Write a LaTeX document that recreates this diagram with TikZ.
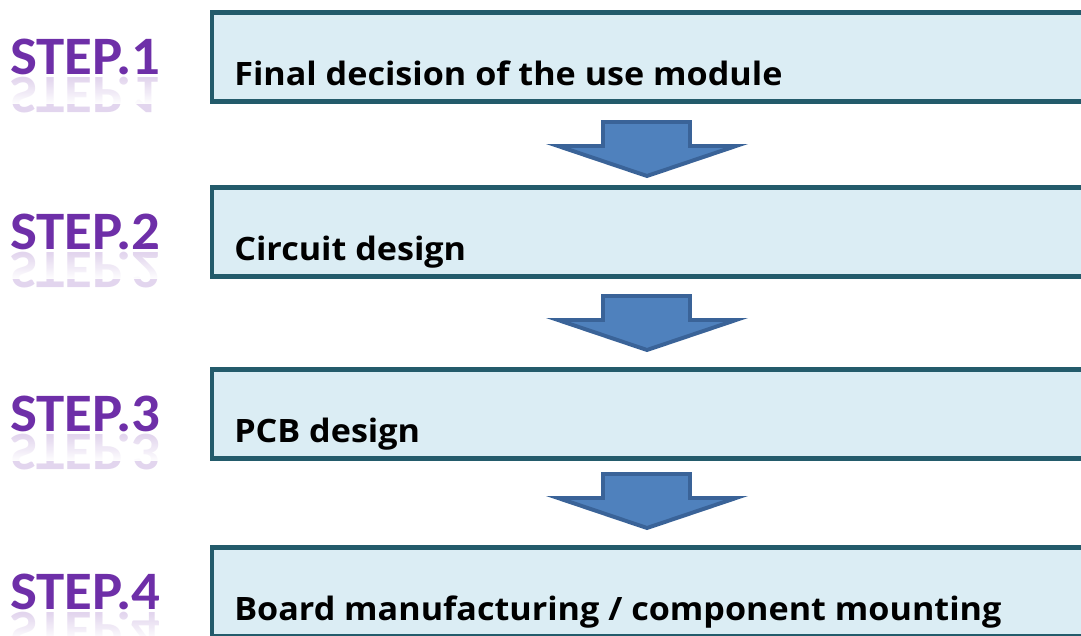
\documentclass[tikz,border=0pt]{standalone}
\usepackage{fontspec}
\setmainfont{Open Sans}
\newfontfamily\boxfont[FakeStretch=1.06]{Open Sans}
\newfontfamily\stepfont[FakeStretch=1.05]{Carlito}
\usetikzlibrary{fadings}

\definecolor{boxfill}{HTML}{DBEDF4}
\definecolor{boxline}{HTML}{235B6B}
\definecolor{arrowfill}{HTML}{4F81BD}
\definecolor{arrowline}{HTML}{3A6398}
\definecolor{steppurple}{HTML}{6E2FA8}

\tikzset{
  stepbox/.style={draw=boxline,fill=boxfill,line width=3.5pt},
  steptext/.style={anchor=base west,inner sep=0pt,font=\boxfont\fontsize{22.9}{27}\selectfont\bfseries},
  steplabel/.style={anchor=base west,inner sep=0pt,text=steppurple,
    font=\stepfont\fontsize{38.5}{44}\selectfont\bfseries},
  blockarrow/.style={draw=arrowline,fill=arrowfill,line width=2.8pt,line join=miter}
}

\begin{document}
\begin{tikzpicture}[x=0.025cm,y=-0.025cm]
        \useasboundingbox (0,0) rectangle (1081,636);
        \clip (0,0) rectangle (1081,636);

        % boxes, texts and STEP labels
        \foreach[count=\i] \t/\txt in {12.5/{Final decision of the use module},
                                       187.5/{Circuit design},
                                       369.5/{PCB design},
                                       547.5/{Board manufacturing / component mounting}}{
            \draw [stepbox] (212,\t) rectangle (1100,\t+89);
            \node [steptext] (text\i) at (234,\t+73) {\txt};
            \node [steplabel] (step\i) at (10,\t+62) {STEP.\i};
            % mirrored copy, washed out towards the bottom
            \node [steplabel,yscale=-1,text opacity=.2] (mirror\i) at (10,\t+65) {STEP.\i};
            \fill [white,path fading=north] (0,\t+66) rectangle (180,\t+92);
        }

        % block arrows between the boxes
        \foreach \y in {122,296,474}{
            \draw [blockarrow] (603,\y) -- (690,\y) -- (690,\y+24) -- (736,\y+24)
                -- (647,\y+54) -- (558,\y+24) -- (603,\y+24) -- cycle;
        }
\end{tikzpicture}
\end{document}
